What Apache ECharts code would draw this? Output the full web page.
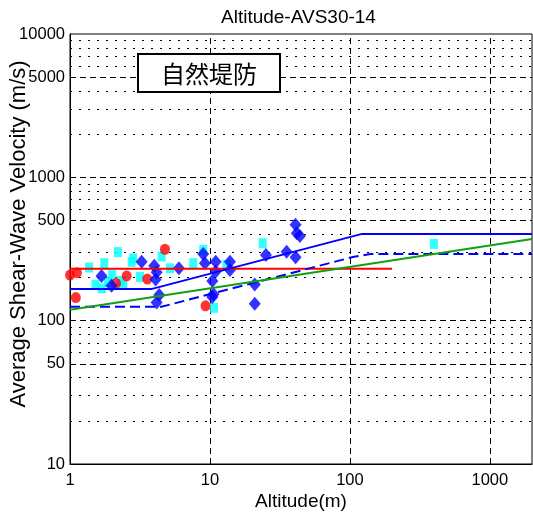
<!DOCTYPE html>
<html><head><meta charset="utf-8">
<script src="https://cdn.jsdelivr.net/npm/echarts@6/dist/echarts.min.js"></script>
<style>html,body{margin:0;padding:0;background:#fff}#c{width:533px;height:514px}</style>
</head><body><div id="c"></div>
<script>
const titleText = 'Altitude-AVS30-14';
const xName = 'Altitude(m)';
const yName = 'Average Shear-Wave Velocity (m/s)';
const boxLabel = '自然堤防';
const xTicks = [1, 10, 100, 1000];
const yTicks = [10, 100, 1000, 10000];
const yHalfTicks = [50, 500, 5000];
const yMinor = [20,30,40,60,70,80,90,200,300,400,600,700,800,900,2000,3000,4000,6000,7000,8000,9000];
const xGrid = [10, 100, 1000];

const redX = [1.0, 1.12, 1.10, 2.13, 2.54, 3.57, 4.77, 9.3];
const redY = [208, 216, 145, 182, 205, 195, 315, 127];

const cyanX = [1.37, 1.76, 1.52, 1.69, 2.0, 2.2, 2.4, 2.83, 2.76, 3.16, 4.52, 5.18, 7.6, 8.95, 10.7, 13.1, 23.8, 398, 1.87, 2.31];
const cyanY = [235, 252, 178, 168, 208, 301, 178, 272, 257, 202, 280, 232, 252, 311, 123, 245, 347, 343, 186, 189];

const blueX = [1.68, 1.98, 3.25, 4.0, 4.16, 4.09, 4.34, 4.16, 6.0, 8.95, 9.2, 11.0, 11.0, 10.4, 10.6, 10.4, 13.9, 13.9, 20.9, 20.9, 25.1, 35.3, 40.9, 40.9, 41.7, 43.9];
const blueY = [205, 175, 258, 242, 218, 194, 151, 134, 232, 292, 252, 258, 220, 189, 153, 146, 258, 226, 179, 131, 287, 303, 277, 466, 408, 390];

const redLineX = [1, 200];
const redLineY = [230, 230];
const blueLineX = [1, 3.8, 122, 2000];
const blueLineY = [166, 166, 403, 403];
const blueDashX = [1, 4.5, 105, 140, 2000];
const blueDashY = [125, 125, 278, 292, 292];
const greenX = [1, 2000];
const greenY = [119, 372];

const zip = (xs, ys) => xs.map((x, i) => [x, ys[i]]);
const isPow10 = v => Math.abs(Math.log10(v) - Math.round(Math.log10(v))) < 1e-6;
const FONT = 'Liberation Sans';

const gridLines = [];
yHalfTicks.forEach(v => gridLines.push({yAxis: v, lineStyle: {type: [6, 4], color: '#000', width: 1},
  label: {show: true, position: 'start', formatter: String(v), distance: 5, color: '#000', fontSize: 16.5, fontFamily: FONT}}));
[100, 1000].forEach(v => gridLines.push({yAxis: v, lineStyle: {type: [6, 4], color: '#000', width: 1}, label: {show: false}}));
yMinor.forEach(v => gridLines.push({yAxis: v, lineStyle: {type: [2, 7], color: '#000', width: 1}, label: {show: false}}));
xGrid.forEach(v => gridLines.push({xAxis: v, lineStyle: {type: [6, 4], color: '#000', width: 1}, label: {show: false}}));

const chart = echarts.init(document.getElementById('c'), null, {renderer: 'canvas'});
chart.setOption({
  animation: false,
  backgroundColor: '#fff',
  title: {text: titleText, left: 221, top: 8, padding: 0,
    textStyle: {fontSize: 19, fontWeight: 'normal', fontFamily: FONT, color: '#000'}},
  grid: {left: 70, right: 1, top: 34, bottom: 50, containLabel: false, outerBoundsMode: 'none',
    show: true, borderColor: '#000', borderWidth: 1, backgroundColor: 'transparent'},
  xAxis: {type: 'log', logBase: 10, min: 1, max: 2000,
    name: xName, nameLocation: 'middle', nameGap: 28, nameMoveOverlap: false,
    nameTextStyle: {fontSize: 19, fontFamily: FONT, color: '#000'},
    axisLine: {show: true, lineStyle: {color: '#000', width: 1}},
    axisTick: {show: false}, splitLine: {show: false},
    axisLabel: {margin: 8, color: '#000', fontSize: 16.5, fontFamily: FONT,
      formatter: v => (isPow10(v) && xTicks.some(t => Math.abs(t - v) / t < 1e-6)) ? String(Math.round(v)) : ''}},
  yAxis: {type: 'log', logBase: 10, min: 10, max: 10000,
    name: yName, nameLocation: 'middle', nameGap: 40, nameMoveOverlap: false,
    nameTextStyle: {fontSize: 22, fontFamily: FONT, color: '#000', padding: [0, 0, 0, 30]},
    axisLine: {show: true, lineStyle: {color: '#000', width: 1}},
    axisTick: {show: false}, splitLine: {show: false},
    axisLabel: {margin: 5, color: '#000', fontSize: 16.5, fontFamily: FONT,
      formatter: v => (isPow10(v) && yTicks.some(t => Math.abs(t - v) / t < 1e-6)) ? String(Math.round(v)) : ''}},
  graphic: [{type: 'group', left: 137, top: 53, z: 100, children: [
    {type: 'rect', z: 100, shape: {x: 0, y: 0, width: 142, height: 38}, style: {fill: '#fff', stroke: '#000', lineWidth: 2}},
    {type: 'text', z: 101, x: 71, y: 20, style: {text: boxLabel, font: '24px "Noto Sans CJK JP"', textAlign: 'center', textVerticalAlign: 'middle', fill: '#000'}}
  ]}],
  series: [
    {type: 'line', data: [], z: 1, silent: true,
      markLine: {silent: true, z: 1, symbol: ['none', 'none'], animation: false, data: gridLines}},
    {type: 'scatter', data: zip(cyanX, cyanY), symbol: 'rect', symbolSize: [8, 10], z: 2, itemStyle: {color: '#00ffff'}},
    {type: 'scatter', data: zip(redX, redY), symbol: 'circle', symbolSize: [10, 11], z: 2, itemStyle: {color: '#ff0000'}, clip: false},
    {type: 'scatter', data: zip(blueX, blueY), symbol: 'diamond', symbolSize: [12, 14], z: 2, itemStyle: {color: '#0000ff'}},
    {type: 'line', data: zip(redLineX, redLineY), symbol: 'none', z: 3, lineStyle: {color: '#ff0000', width: 2}},
    {type: 'line', data: zip(blueLineX, blueLineY), symbol: 'none', z: 3, lineStyle: {color: '#0000ff', width: 2}},
    {type: 'line', data: zip(blueDashX, blueDashY), symbol: 'none', z: 3, lineStyle: {color: '#0000ff', width: 2, type: [10, 5]}},
    {type: 'line', data: zip(greenX, greenY), symbol: 'none', z: 3, lineStyle: {color: '#10a010', width: 2}}
  ]
});
</script></body></html>
